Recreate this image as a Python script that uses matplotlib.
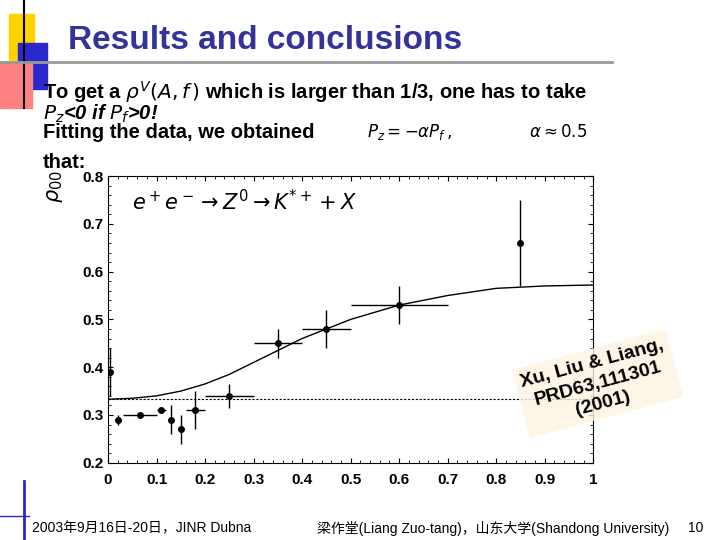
import matplotlib
matplotlib.use("Agg")
import matplotlib.pyplot as plt
from matplotlib.patches import Rectangle

plt.rcParams['font.family'] = ['Liberation Sans', 'Noto Sans CJK SC', 'DejaVu Sans']

x = [0.005, 0.02, 0.065, 0.11, 0.13, 0.15, 0.18, 0.25, 0.35, 0.45, 0.60, 0.85]
y = [0.39, 0.29, 0.30, 0.31, 0.29, 0.27, 0.31, 0.34, 0.45, 0.48, 0.53, 0.66]
xerr = [0, 0, 0.035, 0.01, 0, 0, 0.02, 0.05, 0.05, 0.05, 0.10, 0]
yerr = [0.05, 0.01, 0.0, 0.0, 0.03, 0.03, 0.04, 0.025, 0.03, 0.04, 0.04, 0.09]
curve_x = [0.0, 0.05, 0.1, 0.15, 0.2, 0.25, 0.3, 0.35, 0.4, 0.45, 0.5, 0.6, 0.7, 0.8, 0.9, 1.0]
curve_y = [0.333, 0.335, 0.34, 0.35, 0.365, 0.385, 0.41, 0.435, 0.46, 0.48, 0.50, 0.53, 0.55, 0.565, 0.57, 0.572]
xticks = [0, 0.1, 0.2, 0.3, 0.4, 0.5, 0.6, 0.7, 0.8, 0.9, 1]
yticks = [0.2, 0.3, 0.4, 0.5, 0.6, 0.7, 0.8]

fig = plt.figure(figsize=(7.2, 5.4), dpi=100)
fig.patches.append(Rectangle((0.012, 0.885), 0.035, 0.09, transform=fig.transFigure, color='#ffd200', zorder=0))
fig.patches.append(Rectangle((0.025, 0.835), 0.04, 0.085, transform=fig.transFigure, color='#2a2acc', zorder=1))
fig.patches.append(Rectangle((0.0, 0.80), 0.045, 0.085, transform=fig.transFigure, color='#ff8080', zorder=1))
fig.add_artist(plt.Line2D([0.033, 0.033], [0.80, 1.0], color='black', lw=1.5))
fig.add_artist(plt.Line2D([0.0, 0.85], [0.885, 0.885], color='#999999', lw=2))
fig.add_artist(plt.Line2D([0.033, 0.033], [0.0, 0.11], color='#2a2acc', lw=2))
fig.add_artist(plt.Line2D([0.0, 0.04], [0.045, 0.045], color='#2a2acc', lw=1))

fig.text(0.095, 0.925, 'Results and conclusions', fontsize=24, fontweight='bold', color='#333399', va='center')
fig.text(0.06, 0.83, r'To get a $\rho^V$$(A,f\,)$ which is larger than 1/3, one has to take', fontsize=14.5, fontweight='bold', va='center')
fig.text(0.06, 0.79, r'$P_z$<0 if $P_f$>0!', fontsize=14.5, fontweight='bold', va='center', style='italic')
fig.text(0.06, 0.755, 'Fitting the data, we obtained', fontsize=14.5, fontweight='bold', va='center')
fig.text(0.51, 0.755, r'$P_z=-\alpha P_f\,,$', fontsize=12, va='center', family='DejaVu Serif')
fig.text(0.735, 0.755, r'$\alpha\approx0.5$', fontsize=12, va='center', family='DejaVu Serif')
fig.text(0.06, 0.70, 'that:', fontsize=14.5, fontweight='bold', va='center')

ax = fig.add_axes([0.15, 0.143, 0.674, 0.531])
ax.plot(curve_x, curve_y, color='black', lw=1)
ax.axhline(1/3, color='black', lw=0.8, ls=(0, (2, 1.5)))
ax.errorbar(x, y, xerr=xerr, yerr=yerr, fmt='o', color='black', ms=4, lw=1, capsize=0)
ax.set_xlim(0, 1)
ax.set_ylim(0.2, 0.8)
ax.set_xticks(xticks)
ax.set_xticklabels(['0', '0.1', '0.2', '0.3', '0.4', '0.5', '0.6', '0.7', '0.8', '0.9', '1'])
ax.set_yticks(yticks)
ax.set_yticklabels(['0.2', '0.3', '0.4', '0.5', '0.6', '0.7', '0.8'])
ax.minorticks_on()
ax.tick_params(which='both', direction='in', top=True, right=True, labelsize=11)
ax.tick_params(axis='x', pad=7)
for lab in ax.get_xticklabels() + ax.get_yticklabels():
    lab.set_fontweight('bold')
ax.text(0.05, 0.88, r'$e^+e^-\rightarrow Z^0\rightarrow K^{*+}+X$', transform=ax.transAxes,
        fontsize=15, fontweight='bold', family='DejaVu Serif')
fig.text(0.062, 0.655, r'$\rho_{00}$', fontsize=15, rotation=90, va='center')
fig.text(0.83, 0.29, 'Xu, Liu & Liang,\nPRD63,111301\n(2001)', fontsize=14, fontweight='bold',
         rotation=15, ha='center', va='center', linespacing=1.3,
         bbox=dict(facecolor='#fdf3e0', edgecolor='none', alpha=0.8))

fig.text(0.045, 0.022, '2003年9月16日-20日，JINR Dubna', fontsize=10, va='center')
fig.text(0.44, 0.022, '梁作堂(Liang Zuo-tang)，山东大学(Shandong University)', fontsize=10, va='center')
fig.text(0.955, 0.022, '10', fontsize=10, va='center')

fig.savefig('out.png', dpi=100)
